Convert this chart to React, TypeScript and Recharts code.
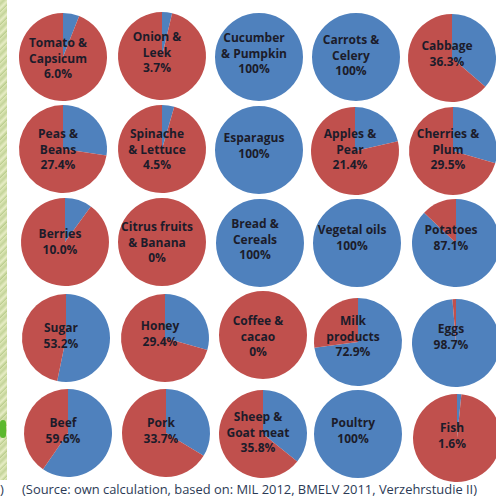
import { PieChart, Pie, Cell } from "recharts";

// share of domestic supply (blue) per product group
const products = [
  "Tomato & Capsicum", "Onion & Leek", "Cucumber & Pumpkin", "Carrots & Celery", "Cabbage",
  "Peas & Beans", "Spinache & Lettuce", "Esparagus", "Apples & Pear", "Cherries & Plum",
  "Berries", "Citrus fruits & Banana", "Bread & Cereals", "Vegetal oils", "Potatoes",
  "Sugar", "Honey", "Coffee & cacao", "Milk products", "Eggs",
  "Beef", "Pork", "Sheep & Goat meat", "Poultry", "Fish",
];

const selfSupply = [
  6.0, 3.7, 100, 100, 36.3,
  27.4, 4.5, 100, 21.4, 29.5,
  10.0, 0, 100, 100, 87.1,
  53.2, 29.4, 0, 72.9, 98.7,
  59.6, 33.7, 35.8, 100, 1.6,
];

const percentLabels = [
  "6.0%", "3.7%", "100%", "100%", "36.3%",
  "27.4%", "4.5%", "100%", "21.4%", "29.5%",
  "10.0%", "0%", "100%", "100%", "87.1%",
  "53.2%", "29.4%", "0%", "72.9%", "98.7%",
  "59.6%", "33.7%", "35.8%", "100%", "1.6%",
];

// label line breaks as in the slide
const labelLines = [
  ["Tomato &", "Capsicum"], ["Onion &", "Leek"], ["Cucumber", "& Pumpkin"], ["Carrots &", "Celery"], ["Cabbage"],
  ["Peas &", "Beans"], ["Spinache", "& Lettuce"], ["Esparagus"], ["Apples &", "Pear"], ["Cherries &", "Plum"],
  ["Berries"], ["Citrus fruits", "& Banana"], ["Bread &", "Cereals"], ["Vegetal oils"], ["Potatoes"],
  ["Sugar"], ["Honey"], ["Coffee &", "cacao"], ["Milk", "products"], ["Eggs"],
  ["Beef"], ["Pork"], ["Sheep &", "Goat meat"], ["Poultry"], ["Fish"],
];

const SOURCE = "(Source: own calculation, based on: MIL 2012, BMELV 2011, Verzehrstudie II)";

const BLUE = "#4f81bd";
const RED = "#c0504d";
const TEXT = "#1c1c2a";

// layout (pixel centres of each pie and the label block)
const centers: [number, number][] = [
  [58, 52], [157, 51], [254, 52], [351, 52], [447, 53],
  [58, 144], [157, 144], [254, 145], [350, 146], [448, 146],
  [60, 237], [157, 237], [255, 238], [352, 238], [451, 238],
  [61, 333], [160, 333], [258, 330], [353, 337], [451, 338],
  [63, 428], [161, 428], [258, 429], [353, 429], [452, 433],
];
const labelCenters: number[] = [
  58, 52, 53, 55, 53,
  149, 149, 145, 149, 149,
  241, 242, 239, 237, 237,
  335, 333, 336, 336, 336,
  430, 430, 432, 430, 435,
];
const R = 44;

export default function App() {
  return (
    <div
      style={{
        position: "absolute",
        left: 0,
        top: 0,
        width: 496,
        height: 499,
        background: "#ffffff",
        overflow: "hidden",
        fontFamily: "'Open Sans', sans-serif",
      }}
    >
      {/* photo strip on the left edge */}
      <div
        style={{
          position: "absolute",
          left: 0,
          top: 0,
          width: 7,
          height: 480,
          background:
            "repeating-linear-gradient(135deg, #dfe8b8 0px, #c4d49a 3px, #e8eec6 6px, #b9cc8c 9px)",
        }}
      />
      <div
        style={{
          position: "absolute",
          left: 0,
          top: 420,
          width: 6,
          height: 18,
          borderRadius: 3,
          background: "#5cb82e",
        }}
      />
      <PieChart width={496} height={499} style={{ position: "absolute", left: 0, top: 0 }}>
        {products.map((name, i) => (
          <Pie
            key={name}
            data={[
              { name: "domestic", value: selfSupply[i] },
              { name: "import", value: +(100 - selfSupply[i]).toFixed(1) },
            ]}
            dataKey="value"
            cx={centers[i][0]}
            cy={centers[i][1]}
            outerRadius={R}
            innerRadius={0}
            startAngle={90}
            endAngle={-270}
            stroke="none"
            isAnimationActive={false}
            label={false}
            labelLine={false}
          >
            <Cell fill={BLUE} />
            <Cell fill={RED} />
          </Pie>
        ))}
      </PieChart>
      {products.map((name, i) => {
        const lines = [...labelLines[i], percentLabels[i]];
        return (
          <div
            key={"l" + name}
            style={{
              position: "absolute",
              left: centers[i][0],
              top: labelCenters[i],
              transform: "translate(-50%, -50%)",
              textAlign: "center",
              whiteSpace: "nowrap",
              fontWeight: 700,
              fontSize: 12,
              lineHeight: "15.5px",
              color: TEXT,
              pointerEvents: "none",
            }}
          >
            {lines.map((t, k) => (
              <div key={k}>{t}</div>
            ))}
          </div>
        );
      })}
      <svg width={496} height={499} style={{ position: "absolute", left: 0, top: 0 }}>
        <text x={0} y={494} fontSize={13} fill="#2b3a55" fontFamily="'Open Sans', sans-serif">
          )
        </text>
        <text
          x={22}
          y={494}
          fontSize={13}
          fill="#2b3a55"
          fontFamily="'Open Sans', sans-serif"
          textLength={455}
          lengthAdjust="spacingAndGlyphs"
        >
          {SOURCE}
        </text>
      </svg>
    </div>
  );
}
